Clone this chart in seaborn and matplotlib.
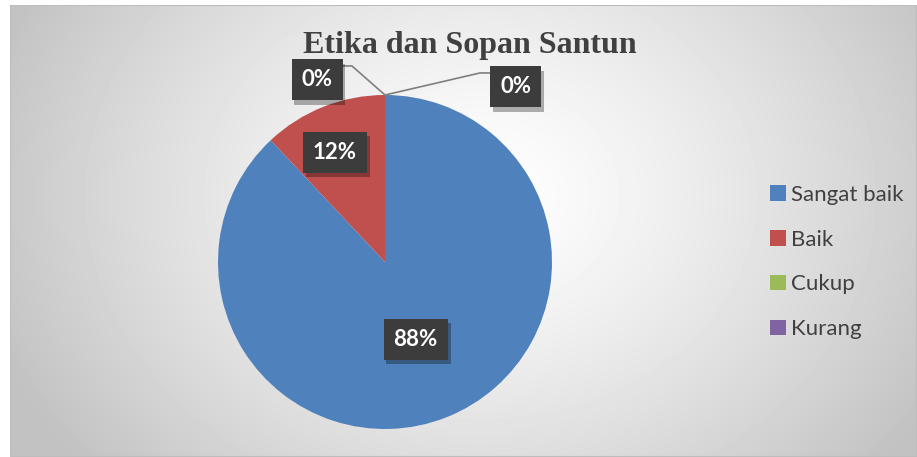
# Pie chart: Etika dan Sopan Santun
import numpy as np
import matplotlib.pyplot as plt
import matplotlib.patheffects as pe
import seaborn as sns
from matplotlib.patches import Patch, Rectangle

# data
categories = ['Sangat baik', 'Baik', 'Cukup', 'Kurang']
values = [88, 12, 0, 0]
labels = ['88%', '12%', '0%', '0%']
colors = ['#4F81BD', '#C0504D', '#9BBB59', '#8064A2']

sns.set_theme(style='white')
plt.rcParams['font.family'] = ['Lato', 'DejaVu Sans']

W, H = 917, 457
fig = plt.figure(figsize=(W / 100, H / 100), dpi=100)
fig.patch.set_facecolor('white')

# background panel with a radial gradient (white centre, grey edges)
bg = fig.add_axes([10 / W, 0, 1 - 10 / W, 1 - 5 / H])
bg.set_axis_off()
yy, xx = np.mgrid[0:452, 0:907]
d = np.sqrt(((xx - 470) / 520) ** 2 + ((yy - 190) / 420) ** 2)
shade = 1.0 - 0.24 * np.clip(d, 0, 1) ** 1.3
bg.imshow(shade, cmap='gray', vmin=0, vmax=1, aspect='auto',
          extent=[0, 1, 0, 1], origin='upper', interpolation='bilinear')
bg.add_patch(Rectangle((0, 0), 1, 1, transform=bg.transAxes, fill=False,
                       edgecolor='#bdbdbd', lw=1.5))

# pie axes: centre (385, 262) px, radius 167 px
cx, cy, r = 385, H - 262, 167
ax = fig.add_axes([(cx - r) / W, (cy - r) / H, 2 * r / W, 2 * r / H])
wedges, _ = ax.pie(values, colors=colors, startangle=90, counterclock=False,
                   radius=1, wedgeprops=dict(linewidth=0))
ax.set_xlim(-1, 1)
ax.set_ylim(-1, 1)
ax.set_axis_off()

box = dict(boxstyle='square,pad=0.45', facecolor='#3c3c3c', edgecolor='none', linewidth=0)

def put_label(x, y, txt):
    t = ax.text(x, y, txt, color='white', fontsize=16, fontweight='bold',
                ha='center', va='center', bbox=box, clip_on=False, zorder=5)
    t.get_bbox_patch().set_path_effects(
        [pe.SimplePatchShadow(offset=(2, -3), shadow_rgbFace='black', alpha=0.3), pe.Normal()])

# inner labels placed along the wedge mid-angle
for w, txt, rr, da in zip(wedges[:2], labels[:2], [0.5, 0.72], [0, 3]):
    ang = np.deg2rad((w.theta1 + w.theta2) / 2 + da)
    put_label(rr * np.cos(ang), rr * np.sin(ang), txt)

# zero-size wedges: labels outside with leader lines from the top of the pie
top = (0, 1)
ax.plot([top[0], -0.198, -0.257], [top[1], 1.174, 1.174], color='#7f7f7f', lw=1.2,
        clip_on=False, zorder=3)
ax.plot([top[0], 0.569, 0.64], [top[1], 1.132, 1.132], color='#7f7f7f', lw=1.2,
        clip_on=False, zorder=3)
put_label(-0.407, 1.09, labels[2])
put_label(0.784, 1.048, labels[3])

# title
fig.text(470 / W, 1 - 46 / H, 'Etika dan Sopan Santun', ha='center', va='center',
         fontsize=23, fontweight='bold', color='#404040', family='Liberation Serif')

# legend
handles = [Patch(facecolor=c, edgecolor='none') for c in colors]
fig.legend(handles, categories, loc='center left', bbox_to_anchor=(750 / W, 1 - 262 / H),
           frameon=False, fontsize=16, handlelength=0.7, handleheight=0.7,
           handletextpad=0.25, labelspacing=1.12, labelcolor='#404040')

fig.savefig('out.png', dpi=100)
